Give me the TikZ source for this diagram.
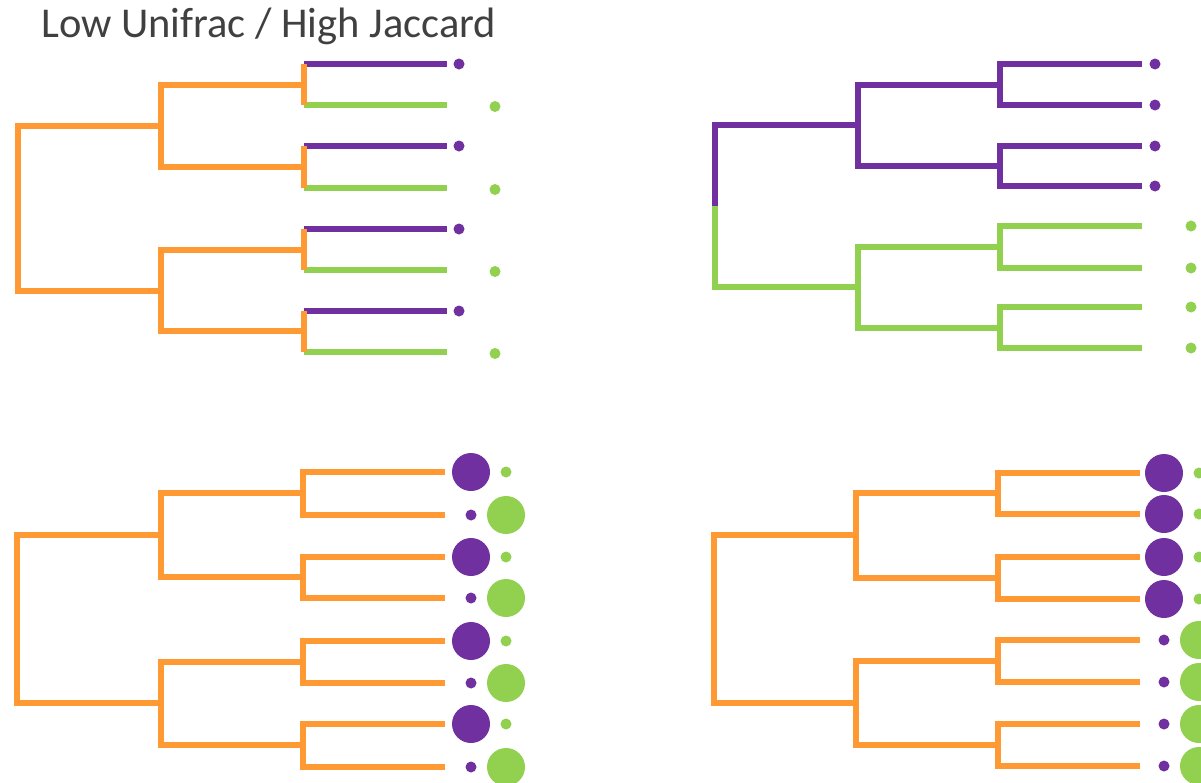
\documentclass[tikz,border=0pt]{standalone}
\usepackage{fontspec}
\setmainfont{Carlito}
\definecolor{treeorange}{HTML}{FF9933}
\definecolor{otupurple}{HTML}{7030A0}
\definecolor{otugreen}{HTML}{92D050}
\definecolor{titlegray}{HTML}{404040}
\tikzset{
  branch/.style={line width=5.2pt},
  otudot/.style={circle,inner sep=0pt,minimum size=11pt,fill=#1},
  bigotu/.style={circle,inner sep=0pt,minimum size=38pt,fill=#1},
}

\begin{document}
\begin{tikzpicture}[x=1pt,y=-1pt]
\useasboundingbox (0,0) rectangle (1201,782);

\node[anchor=base west,inner sep=0pt,text=titlegray,font=\fontsize{42.5}{50}\selectfont]
  (title) at (41,37) {Low Unifrac / High Jaccard};

% top left tree
\foreach \i/\y in {1/64,2/105,3/146,4/188,5/229,6/270,7/311,8/352}
  \coordinate (ul-l\i) at (447,\y);
\coordinate (ul-c1) at (304,85);
\coordinate (ul-c2) at (304,167);
\coordinate (ul-c3) at (304,250);
\coordinate (ul-c4) at (304,331);
\coordinate (ul-i1) at (161,126);
\coordinate (ul-i2) at (161,291);
\coordinate (ul-r) at (18,208);
\foreach \c/\a/\b in {c1/l1/l2,c2/l3/l4,c3/l5/l6,c4/l7/l8}{
  \draw[branch,otupurple] (ul-\c |- ul-\a) -- (ul-\a);
  \draw[branch,otugreen] (ul-\c |- ul-\b) -- (ul-\b);
  \draw[branch,treeorange] (ul-\c |- ul-\a) -- (ul-\c |- ul-\b);
}
\foreach \p/\a/\b in {i1/c1/c2,i2/c3/c4,r/i1/i2}
  \draw[branch,treeorange] (ul-\a) -- (ul-\p |- ul-\a) -- (ul-\p |- ul-\b) -- (ul-\b);
\foreach \i in {1,3,5,7}
  \node[otudot=otupurple,xshift=12pt] (ul-d\i) at (ul-l\i) {};
\foreach \i in {2,4,6,8}
  \node[otudot=otugreen,xshift=48pt,yshift=-1.5pt] (ul-d\i) at (ul-l\i) {};

% top right tree
\foreach \i/\y in {1/64,2/105,3/146,4/186,5/226,6/268,7/307,8/348}
  \coordinate (ur-l\i) at (1142,\y);
\coordinate (ur-c1) at (1000,85);
\coordinate (ur-c2) at (1000,166);
\coordinate (ur-c3) at (1000,247);
\coordinate (ur-c4) at (1000,328);
\coordinate (ur-i1) at (858,125);
\coordinate (ur-i2) at (858,287);
\coordinate (ur-r) at (715,206);
\foreach \p/\a/\b in {c1/l1/l2,c2/l3/l4,i1/c1/c2}
  \draw[branch,otupurple] (ur-\a) -- (ur-\p |- ur-\a) -- (ur-\p |- ur-\b) -- (ur-\b);
\foreach \p/\a/\b in {c3/l5/l6,c4/l7/l8,i2/c3/c4}
  \draw[branch,otugreen] (ur-\a) -- (ur-\p |- ur-\a) -- (ur-\p |- ur-\b) -- (ur-\b);
\draw[branch,otupurple] (ur-i1) -- (ur-r |- ur-i1) -- (ur-r);
\draw[branch,otugreen] (ur-r) -- (ur-r |- ur-i2) -- (ur-i2);
\foreach \i in {1,2,3,4}
  \node[otudot=otupurple,xshift=13pt] (ur-d\i) at (ur-l\i) {};
\foreach \i in {5,6,7,8}
  \node[otudot=otugreen,xshift=49pt] (ur-d\i) at (ur-l\i) {};

% bottom left tree
\foreach \i/\y in {1/472,2/515,3/557,4/598,5/641,6/683,7/724,8/767}
  \coordinate (ll-l\i) at (445,\y);
\coordinate (ll-c1) at (303,493);
\coordinate (ll-c2) at (303,577);
\coordinate (ll-c3) at (303,662);
\coordinate (ll-c4) at (303,745);
\coordinate (ll-i1) at (161,535);
\coordinate (ll-i2) at (161,703);
\coordinate (ll-r) at (17,619);
\foreach \p/\a/\b in {c1/l1/l2,c2/l3/l4,c3/l5/l6,c4/l7/l8,i1/c1/c2,i2/c3/c4,r/i1/i2}
  \draw[branch,treeorange] (ll-\a) -- (ll-\p |- ll-\a) -- (ll-\p |- ll-\b) -- (ll-\b);
\foreach \i in {1,3,5,7}{
  \node[bigotu=otupurple,xshift=26pt] (ll-p\i) at (ll-l\i) {};
  \node[otudot=otugreen,xshift=61pt] (ll-g\i) at (ll-l\i) {};
}
\foreach \i in {2,4,6,8}{
  \node[otudot=otupurple,xshift=26pt] (ll-p\i) at (ll-l\i) {};
  \node[bigotu=otugreen,xshift=61pt] (ll-g\i) at (ll-l\i) {};
}

% bottom right tree
\foreach \i/\y in {1/473,2/514,3/557,4/599,5/640,6/682,7/724,8/766}
  \coordinate (lr-l\i) at (1140,\y);
\coordinate (lr-c1) at (998,493);
\coordinate (lr-c2) at (998,578);
\coordinate (lr-c3) at (998,661);
\coordinate (lr-c4) at (998,745);
\coordinate (lr-i1) at (856,535);
\coordinate (lr-i2) at (856,703);
\coordinate (lr-r) at (714,619);
\foreach \p/\a/\b in {c1/l1/l2,c2/l3/l4,c3/l5/l6,c4/l7/l8,i1/c1/c2,i2/c3/c4,r/i1/i2}
  \draw[branch,treeorange] (lr-\a) -- (lr-\p |- lr-\a) -- (lr-\p |- lr-\b) -- (lr-\b);
\foreach \i in {1,2,3,4}{
  \node[bigotu=otupurple,xshift=24pt] (lr-p\i) at (lr-l\i) {};
  \node[otudot=otugreen,xshift=59pt] (lr-g\i) at (lr-l\i) {};
}
\foreach \i in {5,6,7,8}{
  \node[otudot=otupurple,xshift=24pt] (lr-p\i) at (lr-l\i) {};
  \node[bigotu=otugreen,xshift=59pt] (lr-g\i) at (lr-l\i) {};
}
\end{tikzpicture}
\end{document}
